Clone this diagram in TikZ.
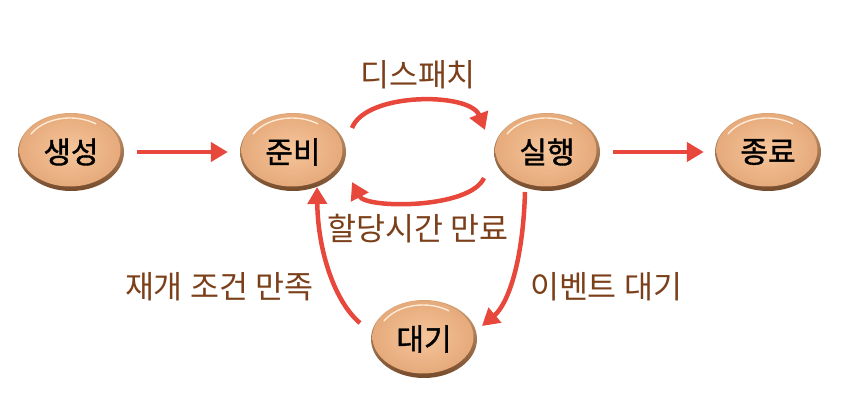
\documentclass[tikz,border=0pt]{standalone}
\usepackage{fontspec}
\newfontfamily\kr{Noto Sans CJK KR}
\newfontfamily\krb[FakeBold=1.2]{Noto Sans CJK KR}
\usetikzlibrary{shapes.geometric,arrows.meta,calc}
\definecolor{arrred}{HTML}{E8473B}
\definecolor{lblbrown}{HTML}{7B3F1A}
\definecolor{peach}{HTML}{F5C59B}
\definecolor{peachout}{HTML}{E6AA7B}
\definecolor{rimtop}{HTML}{DDAA7C}
\definecolor{rimbot}{HTML}{6E4528}
\definecolor{hilite}{HTML}{FFEBD6}
\begin{document}
\begin{tikzpicture}[x=1pt,y=1pt,
  egg/.style={ellipse, minimum width=106pt, minimum height=78pt, inner sep=0pt,
    font=\krb\fontsize{30}{33}\selectfont, text=black,
    path picture={
      \shade[top color=rimtop, bottom color=rimbot]
        ([shift={(-60pt,-45pt)}]path picture bounding box.center) rectangle
        ([shift={(60pt,45pt)}]path picture bounding box.center);
      \shade[inner color=peach, outer color=peachout]
        ([shift={(-1pt,2pt)}]path picture bounding box.center) ellipse [x radius=50.5pt, y radius=36.5pt];
      \draw[hilite, line width=1.4pt, line cap=round]
        ([shift={(-1pt,2pt)}]path picture bounding box.center) ++(150:{45pt} and {32pt})
        arc [start angle=150, end angle=55, x radius=45pt, y radius=32pt];
    }},
  lbl/.style={font=\kr\fontsize{31.5}{35}\selectfont, text=lblbrown},
  arr/.style={draw=arrred, line width=4.5pt, -{Triangle[length=17pt,width=19pt]}}
]
\useasboundingbox (0,0) rectangle (852,412);

\node[egg] (a) at (71,260) {생성};
\node[egg] (b) at (293,260) {준비};
\node[egg] (c) at (547,260) {실행};
\node[egg] (d) at (768,260) {종료};
\node[egg] (e) at (424,73) {대기};

\node[lbl] (l1) at (418,337) {디스패치};
\node[lbl] (l2) at (418,183) {할당시간 만료};
\node[lbl] (l3) at (219,125) {재개 조건 만족};
\node[lbl] (l4) at (606,125) {이벤트 대기};

\draw[arr, shorten <=13pt, shorten >=12pt] (a) -- (b);
\draw[arr, shorten <=13pt, shorten >=11pt] (c) -- (d);

\draw[arr] ([shift={(59pt,24pt)}]b.center) .. controls ([shift={(73pt,60pt)}]b.center) and ([shift={(-77pt,60pt)}]c.center) .. ([shift={(-62pt,22pt)}]c.center);
\draw[arr] ([shift={(-63pt,-26pt)}]c.center) .. controls ([shift={(-77pt,-57pt)}]c.center) and ([shift={(73pt,-57pt)}]b.center) .. ([shift={(59pt,-30pt)}]b.center);
\draw[arr] ([shift={(-22pt,-40pt)}]c.center) .. controls ([shift={(-24pt,-110pt)}]c.center) and ([shift={(84pt,35pt)}]e.center) .. ([shift={(58pt,13pt)}]e.center);
\draw[arr] ([shift={(-64pt,16pt)}]e.center) .. controls ([shift={(-89pt,37pt)}]e.center) and ([shift={(25pt,-100pt)}]b.center) .. ([shift={(24pt,-35pt)}]b.center);
\end{tikzpicture}
\end{document}
